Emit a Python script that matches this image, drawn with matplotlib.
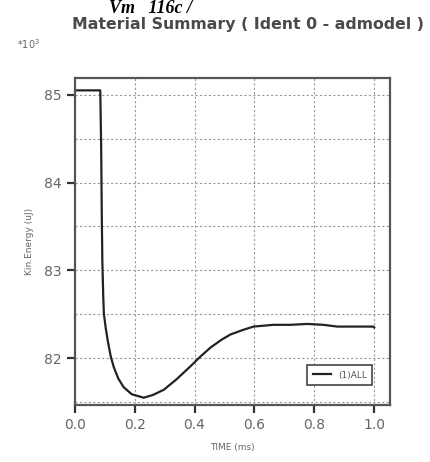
import matplotlib
matplotlib.use("Agg")
import matplotlib.pyplot as plt

# time (ms) and kinetic energy (*10^3 uJ)
time_ms = [0.0, 0.085, 0.088, 0.090, 0.092, 0.095, 0.097, 0.103, 0.110, 0.120, 0.130,
           0.145, 0.163, 0.190, 0.230, 0.260, 0.297, 0.340, 0.387, 0.420, 0.453,
           0.490, 0.520, 0.560, 0.597, 0.630, 0.663, 0.720, 0.777, 0.830, 0.877,
           0.940, 0.997, 1.0]
kin_energy = [85.05, 85.05, 84.40, 83.65, 83.10, 82.70, 82.51, 82.35, 82.20, 82.02, 81.90,
              81.77, 81.67, 81.59, 81.55, 81.58, 81.64, 81.76, 81.91, 82.02, 82.12,
              82.21, 82.27, 82.32, 82.36, 82.37, 82.38, 82.38, 82.39, 82.38, 82.36,
              82.36, 82.36, 82.35]

x_ticks = [0.0, 0.2, 0.4, 0.6, 0.8, 1.0]
y_ticks = [82, 83, 84, 85]

fig = plt.figure(figsize=(4.30, 4.62), dpi=100)
ax = fig.add_axes([0.174, 0.123, 0.733, 0.708])

ax.plot(time_ms, kin_energy, color="#222222", lw=1.6, label="(1)ALL")

ax.set_xlim(0.0, 1.053)
ax.set_ylim(81.465, 85.19)
ax.set_xticks(x_ticks)
ax.set_xticklabels(["%.1f" % v for v in x_ticks])
ax.set_yticks(y_ticks)

# dashed grid every 0.2 in x and every 0.5 in y
for v in [0.2, 0.4, 0.6, 0.8, 1.0]:
    ax.axvline(v, color="#999999", lw=0.8, ls=(0, (2, 2)), zorder=0)
for v in [81.5, 82.0, 82.5, 83.0, 83.5, 84.0, 84.5, 85.0]:
    ax.axhline(v, color="#999999", lw=0.8, ls=(0, (2, 2)), zorder=0)

for s in ax.spines.values():
    s.set_color("#555555")
    s.set_linewidth(1.6)

ax.tick_params(direction="out", length=6, width=1.6, color="#333333",
               labelcolor="#666666", labelsize=10)

ax.set_xlabel("TIME (ms)", fontsize=6.5, color="#666666", labelpad=8)
ax.set_ylabel("Kin.Energy (uJ)", fontsize=6.5, color="#666666", labelpad=7)

leg = ax.legend(loc="lower right", bbox_to_anchor=(0.958, 0.048), fontsize=6.5,
                handlelength=2.0, fancybox=False, framealpha=1, borderpad=0.6)
leg.get_frame().set_edgecolor("#444444")
leg.get_frame().set_linewidth(1.2)
for t in leg.get_texts():
    t.set_color("#555555")

fig.text(0.577, 0.948, "Material Summary ( Ident 0 - admodel )", ha="center",
         va="center", fontsize=11.3, fontweight="bold", color="#4a4a4a")
fig.text(0.04, 0.905, "*10$^3$", fontsize=7, color="#666666", va="center")
fig.text(0.35, 1.0, "Vm   116c /", ha="center", va="top", fontsize=13,
         family="Liberation Serif", fontweight="bold", style="italic", color="black")

fig.savefig("out.png", dpi=100)
